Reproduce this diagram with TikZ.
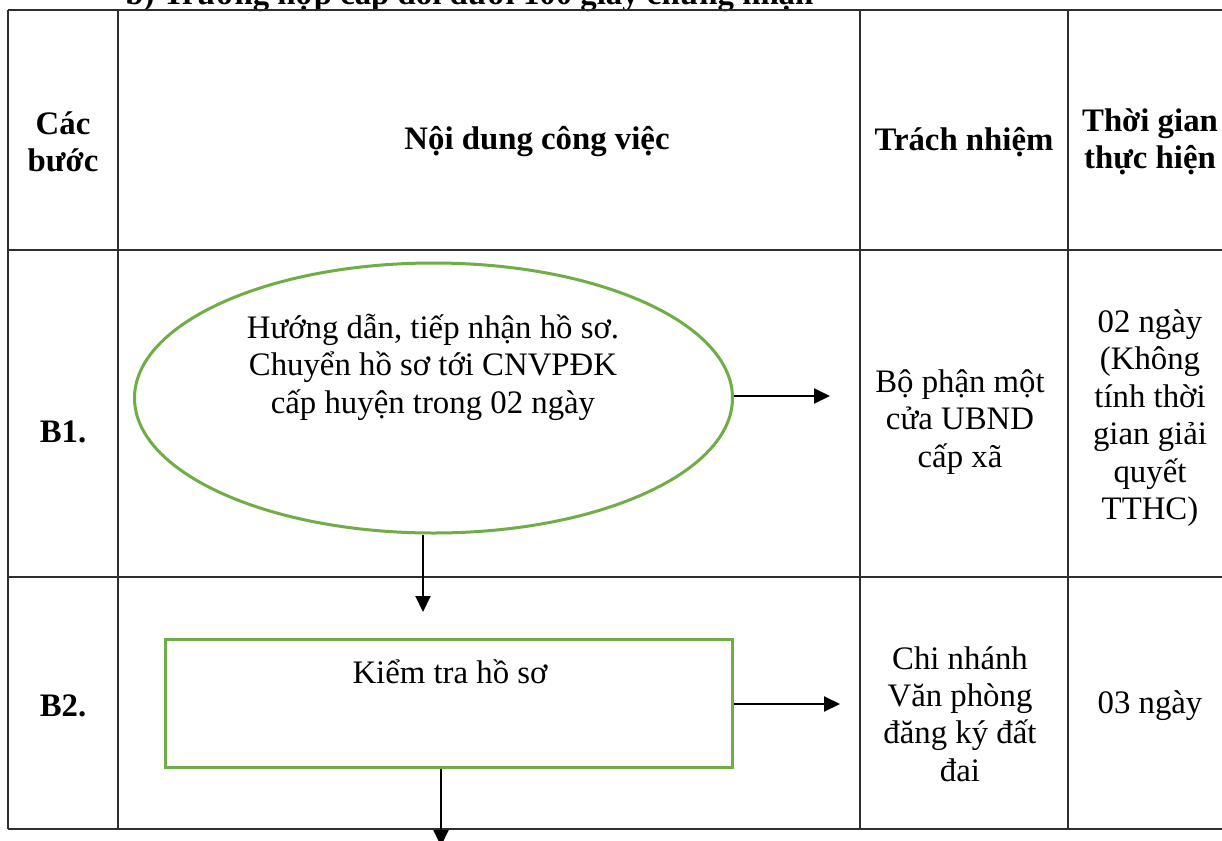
\documentclass[tikz,border=0pt]{standalone}
\usepackage{fontspec}
\setmainfont{Liberation Serif}
\usetikzlibrary{arrows.meta, positioning, shapes.geometric}
\definecolor{gridgray}{HTML}{2E2E2E}
\definecolor{leafgreen}{HTML}{70AD47}

\begin{document}
\begin{tikzpicture}[
  x=0.5pt, y=-0.5pt,
  >={Triangle[length=8pt, width=7.5pt]},
  every node/.style={font=\fontsize{16.4}{18.7}\selectfont, align=center, inner sep=0pt},
  headtext/.style={font=\fontsize{16.4}{18.7}\selectfont\bfseries},
  gridrule/.style={gridgray, line width=1pt},
  flowline/.style={->, line width=1pt, black},
]

% Page frame
\clip (0,0) rectangle (1222,841);
\fill[white] (0,0) rectangle (1222,841);

% Title (cut at the top edge)
\node[headtext, anchor=base west] (title) at (125,4)
  {b) Trường hợp cấp đổi dưới 100 giấy chứng nhận};

% === Table grid ===
\draw[gridrule] (8,10) -- (1240,10);
\draw[gridrule, line width=1.3pt] (8,250) -- (1240,250);
\draw[gridrule] (8,577) -- (1240,577);
\draw[gridrule] (8,829) -- (1240,829);
\draw[gridrule] (8,10) -- (8,829);
\draw[gridrule] (118,10) -- (118,829);
\draw[gridrule] (860,10) -- (860,829);
\draw[gridrule] (1068,10) -- (1068,829);

% === Header row ===
\node[headtext] (hstep) at (63,142) {Các\\bước};
\node[headtext] (hjob) at (537,142) {Nội dung công việc};
\node[headtext] (hresp) at (964,142) {Trách nhiệm};
\node[headtext] (htime) at (1150,142) {Thời gian\\thực hiện};

% === Row B1 ===
\node[headtext] (s1) at (63,432) {B1.};
\node[draw=leafgreen, line width=1.5pt, ellipse,
  minimum width=299pt, minimum height=135pt] (b1shape) at (433.5,398) {};
\node (b1text) at (433,367)
  {Hướng dẫn, tiếp nhận hồ sơ.\\Chuyển hồ sơ tới CNVPĐK\\cấp huyện trong 02 ngày};
\node (r1) at (960,422) {Bộ phận một\\cửa UBND\\cấp xã};
\node (t1) at (1150,418) {02 ngày\\(Không\\tính thời\\gian giải\\quyết\\TTHC)};

% === Row B2 ===
\node[headtext] (s2) at (63,706) {B2.};
\node[draw=leafgreen, line width=1.5pt, rectangle,
  minimum width=283.5pt, minimum height=64pt] (b2box) at (448.5,703) {};
\node (b2text) at (450,672) {Kiểm tra hồ sơ};
\node (r2) at (960,714) {Chi nhánh\\Văn phòng\\đăng ký đất\\đai};
\node (t2) at (1150,706) {03 ngày};

% === Arrows ===
\coordinate (b1right) at (830,396);
\coordinate (b1down) at (423,612);
\coordinate (b2right) at (840,704);
\coordinate (b2down) at (441,846);

\draw[flowline] (b1shape.east |- b1right) -- (b1right);
\draw[flowline] (b1shape.south -| b1down) -- (b1down);
\draw[flowline] (b2box.east |- b2right) -- (b2right);
\draw[flowline] (b2box.south -| b2down) -- (b2down);

\end{tikzpicture}
\end{document}
